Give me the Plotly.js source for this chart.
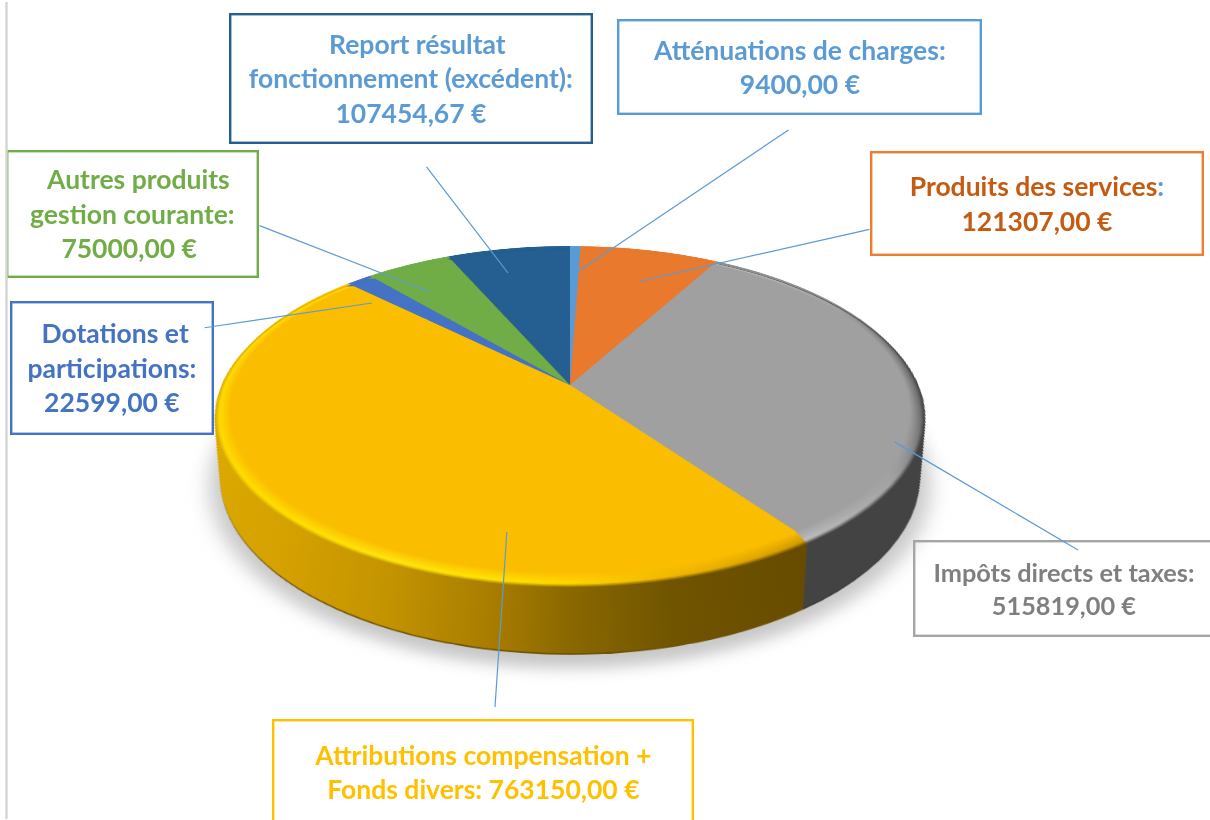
<!DOCTYPE html>
<html><head><meta charset="utf-8">
<script src="https://cdn.plot.ly/plotly-3.0.1.min.js"></script>
<style>html,body{margin:0;padding:0;background:#fff;overflow:hidden}#chart{width:1210px;height:820px}
.annotation-text{font-variant-ligatures:none}</style>
</head><body><div id="chart"></div>
<script>
// ---- data ----
const categories = ["Atténuations de charges","Produits des services","Impôts directs et taxes","Attributions compensation + Fonds divers","Dotations et participations","Autres produits gestion courante","Report résultat fonctionnement (excédent)"];
const amounts = [9400, 121307, 515819, 763150, 22599, 75000, 107454.67];
const sliceColors = ["#5b9bd5","#e8792d","#a0a0a0","#fbbd00","#4472c4","#70ad47","#255e91"];
const boxTexts = [
 "\u00a0\u00a0Report résultat<br>fonctionnement (excédent):<br>107454,67 €",
 "Atténuations de charges:<br>9400,00 €",
 "Produits des services<span style='color:#5b9bd5'>:</span><br>121307,00 €",
 "Impôts directs et taxes:<br>515819,00 €",
 "Attributions compensation +<br>Fonds divers: 763150,00 €",
 "\u00a0Dotations et<br>participations:<br>22599,00 €",
 "\u00a0\u00a0Autres produits<br>gestion courante:<br>75000,00 €\u00a0"
];
// ---- layout helpers (not data) ----
const W=1210,H=820,CX=570,CY=385,R=300;
const boxColors=[["#5b9bd5","#255e91"],["#5b9bd5","#5b9bd5"],["#c55a11","#ed7d31"],["#7f7f7f","#a5a5a5"],["#ffc000","#ffc000"],["#4472c4","#4472c4"],["#70ad47","#70ad47"]];
const boxRects=[[230,14,592,143],[618,20,981,114],[871,152,1203,255],[914,541,1214,636],[273,720,693,824],[11,302,213,434],[7,151,258,277]];
const boxFont=[26.5,26.5,26.5,25.3,26.5,26.5,26.5];
const leaders=[[425,165,508,273],[790,129,570,277],[871,229,640,281],[258,225,430,292],[203,328,372,303],[893,441,1078,550],[507,530,495,707]];
const edgeLine=[6.5,0,6.5,820];
const SIDE_N=44,RIM_N=14;
const RIM_C=0.027,RIM_R=1.007,BOT_C=0.364,BOT_R=0.936,FACE_R=0.97;
function layer(c,rho,colors){
  const cy=CY+c*R,r=rho*R;
  return {type:"pie",labels:categories,values:amounts,sort:false,direction:"clockwise",rotation:0,
    textinfo:"none",hoverinfo:"skip",showlegend:false,
    marker:{colors:colors,line:{width:0}},
    domain:{x:[(CX-r)/W,(CX+r)/W],y:[1-(cy+r)/H,1-(cy-r)/H]}};
}
const traces=[];
traces.push(layer(BOT_C+0.03,BOT_R+0.022,categories.map(()=>"#c8c8c8")));            // soft shadow
for(let i=SIDE_N;i>=0;i--){const t=i/SIDE_N;traces.push(layer(RIM_C+(BOT_C-RIM_C)*t,RIM_R-(RIM_R-BOT_R)*t,sliceColors));}
traces.push(layer(0,1,sliceColors));                                                  // far edge
for(let i=0;i<RIM_N;i++){const m=i/(RIM_N-1);traces.push(layer(RIM_C*(1-m),RIM_R-(RIM_R-FACE_R)*m,sliceColors));}
traces.push(layer(0,FACE_R,sliceColors));

const annotations=[];
const px=x=>x/W, py=y=>1-y/H;
boxTexts.forEach((t,i)=>{const b=boxRects[i];
 annotations.push({xref:"paper",yref:"paper",x:px((b[0]+b[2])/2),y:py((b[1]+b[3])/2),xanchor:"center",yanchor:"middle",
  width:b[2]-b[0]-3,height:b[3]-b[1]-3,borderwidth:2.4,borderpad:0,bordercolor:boxColors[i][1],showarrow:false,align:"center",valign:"middle",
  text:"<b>"+t+"</b>",font:{family:"Lato",size:boxFont[i],color:boxColors[i][0]}});
});
function seg(s,color,w){annotations.push({xref:"paper",yref:"paper",x:px(s[2]),y:py(s[3]),text:"\u00a0",font:{size:1},showarrow:true,arrowhead:0,arrowwidth:w,arrowcolor:color,ax:s[0]-s[2],ay:s[1]-s[3],standoff:0,startstandoff:0});}
leaders.forEach(s=>seg(s,"#5b9bd5",1.2));
seg(edgeLine,"#d4d4d4",2.4);

const hex=c=>[1,3,5].map(i=>parseInt(c.substr(i,2),16));
const mix=(a,b,m)=>{const A=hex(a),B=hex(b);return "#"+A.map((v,i)=>Math.round(v+(B[i]-v)*m).toString(16).padStart(2,"0")).join("");};
const goldSide=[[0,"#dcab00"],[.16,"#d4a000"],[.28,"#c49400"],[.41,"#a87c00"],[.5,"#8a6800"],[.62,"#705400"],[.8,"#664b00"],[1,"#664b00"]];
const goldHigh=[[0,"#ffdb00"],[.16,"#ffe000"],[.28,"#ffe60c"],[.41,"#ffe400"],[.5,"#ffd800"],[.62,"#f0b800"],[.8,"#d09800"],[1,"#d09800"]];
const greySide=[[0,"#434343"],[1,"#434343"]];
const greyHigh=[[0,"#bcbcbc"],[.8,"#bcbcbc"],[.92,"#a4a4a4"],[1,"#6a6a6a"]];
function grad(id,stops){return `<linearGradient id="${id}" gradientUnits="userSpaceOnUse" x1="${CX-R}" x2="${CX+R}" y1="0" y2="0">`+stops.map(s=>`<stop offset="${s[0]}" stop-color="${s[1]}"/>`).join("")+`</linearGradient>`;}
const KNEE=0.25;
function rimStops(side,high,face,m){ // m: 0 outer → 1 inner
  return side.map((s,i)=>{const h=high[i][1];
    return [s[0], m<KNEE? mix(s[1],h,m/KNEE): mix(h,face,(m-KNEE)/(1-KNEE))];});
}
function greyRim(m){return greyHigh.map(s=>[s[0], m<KNEE? mix("#434343",s[1],m/KNEE): mix(s[1],"#a0a0a0",(m-KNEE)/(1-KNEE))]);}

Plotly.newPlot("chart",traces,{width:W,height:H,margin:{l:0,r:0,t:0,b:0},paper_bgcolor:"rgba(0,0,0,0)",plot_bgcolor:"rgba(0,0,0,0)",showlegend:false,annotations:annotations},{staticPlot:true,displayModeBar:false}).then(gd=>{
  const svg=gd.querySelector(".main-svg");
  let defs=svg.querySelector("defs");
  let html=grad("goldSide",goldSide)+grad("greySide",greySide)+
    `<filter id="softShadow" x="-10%" y="-10%" width="120%" height="120%"><feGaussianBlur stdDeviation="8"/></filter>`;
  for(let i=0;i<RIM_N;i++){const m=i/(RIM_N-1);html+=grad("goldRim"+i,rimStops(goldSide,goldHigh,"#fbbd00",m))+grad("greyRim"+i,greyRim(m));}
  const g=document.createElementNS("http://www.w3.org/2000/svg","g");g.innerHTML=html;defs.appendChild(g);
  const layers=gd.querySelectorAll(".pielayer .trace");
  const setFill=(tr,idx,val)=>{const s=tr.querySelectorAll(".slice path.surface")[idx];if(s)s.style.fill=val;};
  layers[0].setAttribute("filter","url(#softShadow)");
  for(let i=0;i<=SIDE_N;i++){const tr=layers[1+i];
    const dark=i<1;
    setFill(tr,3,dark?"#6e5200":"url(#goldSide)");setFill(tr,2,dark?"#383838":"url(#greySide)");}
  setFill(layers[1+SIDE_N+1],2,"#909090");
  for(let i=0;i<RIM_N;i++){const tr=layers[1+SIDE_N+2+i];
    setFill(tr,3,"url(#goldRim"+i+")");setFill(tr,2,"url(#greyRim"+i+")");}
  // tilt the flat pies into the reference's perspective; text and leader lines live in the upper svg
  const a=346/R,b=162.3/R,k=-0.1677/R;
  svg.style.transformOrigin=CX+"px "+CY+"px";
  svg.style.transform=`matrix3d(${a},0,0,0, 0,${b},0,${k}, 0,0,1,0, 0,0,0,1)`;
});
</script></body></html>
